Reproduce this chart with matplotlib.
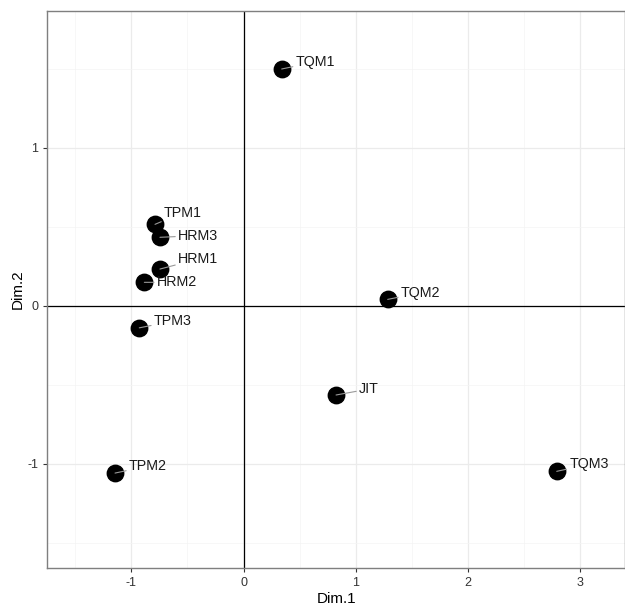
import matplotlib
matplotlib.use('Agg')
import matplotlib.pyplot as plt

plt.rcParams['font.family'] = ['Liberation Sans', 'DejaVu Sans']
plt.rcParams['axes.unicode_minus'] = False

labels = ['TQM1', 'TPM1', 'HRM3', 'HRM1', 'HRM2', 'TQM2', 'TPM3', 'JIT', 'TPM2', 'TQM3']
dim1 = [0.34, -0.788, -0.744, -0.744, -0.883, 1.284, -0.928, 0.824, -1.144, 2.789]
dim2 = [1.497, 0.514, 0.432, 0.231, 0.147, 0.039, -0.141, -0.566, -1.06, -1.049]

# label offsets (points) from each dot, like ggrepel did
offsets = [(10, 5), (6.5, 8.5), (13, 1.2), (13, 7.2), (9, 0), (9.5, 4.8),
           (10.5, 4.8), (16.5, 4.3), (10, 5), (9, 5)]

fig = plt.figure(figsize=(6.25, 6.07), dpi=100)
ax = fig.add_axes([0.0757, 0.0647, 0.9243, 0.9177])

ax.set_xlim(-1.747, 3.397)
ax.set_ylim(-1.659, 1.866)
ax.set_xticks([-1, 0, 1, 2, 3])
ax.set_yticks([-1, 0, 1])
ax.set_xticks([-1.5, -0.5, 0.5, 1.5, 2.5], minor=True)
ax.set_yticks([-1.5, -0.5, 0.5, 1.5], minor=True)
ax.grid(which='major', color='#EBEBEB', linewidth=0.9)
ax.grid(which='minor', color='#F4F4F4', linewidth=0.5)
ax.set_axisbelow(True)

for s in ax.spines.values():
    s.set_color('#7F7F7F')
    s.set_linewidth(1.0)

ax.tick_params(which='major', length=3, color='#333333', labelsize=9, labelcolor='#333333')
ax.tick_params(which='minor', length=0)

ax.axhline(0, color='black', linewidth=0.9, zorder=1)
ax.axvline(0, color='black', linewidth=0.9, zorder=1)

ax.scatter(dim1, dim2, s=140, color='black', zorder=3)

for lab, x, y, off in zip(labels, dim1, dim2, offsets):
    ax.annotate(lab, (x, y), xytext=off, textcoords='offset points',
                ha='left', va='center', fontsize=10.3, color='#1a1a1a',
                arrowprops=dict(arrowstyle='-', color='#999999', lw=0.8,
                                shrinkA=0, shrinkB=0), zorder=4)

ax.set_xlabel('Dim.1', fontsize=11, labelpad=2)
ax.set_ylabel('Dim.2', fontsize=11, labelpad=2)

fig.savefig('out.png', dpi=100)
